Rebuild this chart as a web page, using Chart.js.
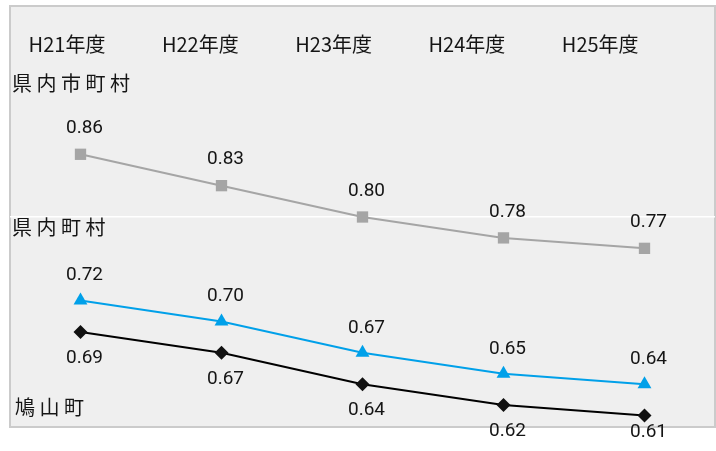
<!DOCTYPE html>
<html>
<head>
<meta charset="utf-8">
<script src="https://cdn.jsdelivr.net/npm/chart.js@4.4.0/dist/chart.umd.min.js"></script>
<style>
  html, body { margin: 0; padding: 0; background: #ffffff; }
  #wrap { width: 716px; height: 451px; }
</style>
</head>
<body>
<div id="wrap"><canvas id="chart"></canvas></div>
<script>
// Data
const years = ["H21年度", "H22年度", "H23年度", "H24年度", "H25年度"];
const prefAll = [0.86, 0.83, 0.80, 0.78, 0.77];     // 県内市町村
const prefTowns = [0.72, 0.70, 0.67, 0.65, 0.64];   // 県内町村
const hatoyama = [0.69, 0.67, 0.64, 0.62, 0.61];    // 鳩山町
const seriesNames = ["県内市町村", "県内町村", "鳩山町"];

const JP_FONT = '"Noto Sans CJK JP", sans-serif';

// Grey panel behind the plot, drawn from the chart area
const panelPlugin = {
  id: "panel",
  beforeDraw(chart) {
    const { ctx, chartArea: a } = chart;
    ctx.save();
    ctx.fillStyle = "#efefef";
    ctx.fillRect(a.left, a.top - 2, a.right - a.left, a.bottom - a.top + 3);
    ctx.strokeStyle = "#cbcbcb";
    ctx.lineWidth = 2;
    ctx.strokeRect(a.left, a.top - 2, a.right - a.left, a.bottom - a.top + 3);
    ctx.restore();
  }
};

// Year labels across the top, series names at the left, value labels at the points
const textPlugin = {
  id: "texts",
  afterDatasetsDraw(chart) {
    const { ctx, chartArea: a } = chart;
    const y = chart.scales.y;
    ctx.save();

    // year labels (Excel places them a little left of the points)
    ctx.font = "20px " + JP_FONT;
    ctx.fillStyle = "#151515";
    ctx.textAlign = "center";
    ctx.textBaseline = "middle";
    years.forEach((t, i) => {
      ctx.fillText(t, a.left + 57 + i * 133.3, a.top + 36);
    });

    // series names, spaced out like the original
    ctx.textAlign = "left";
    ctx.letterSpacing = "4.5px";
    ctx.fillText(seriesNames[0], a.left + 2, y.getPixelForValue(0.928));
    ctx.fillText(seriesNames[1], a.left + 2, y.getPixelForValue(0.79));
    ctx.fillText(seriesNames[2], a.left + 5, y.getPixelForValue(0.618));
    ctx.letterSpacing = "0px";

    // value labels
    ctx.font = "19px Roboto, sans-serif";
    ctx.textAlign = "center";
    const offsets = [-26, -25, 26];
    chart.data.datasets.forEach((ds, d) => {
      chart.getDatasetMeta(d).data.forEach((pt, i) => {
        const ly = Math.min(pt.y + offsets[d], a.bottom + 6);
        ctx.fillText(ds.data[i].toFixed(2), pt.x + 4, ly);
      });
    });
    ctx.restore();
  }
};

new Chart(document.getElementById("chart"), {
  type: "line",
  data: {
    labels: years,
    datasets: [
      {
        label: seriesNames[0],
        data: prefAll,
        borderColor: "#a5a5a5",
        backgroundColor: "#a5a5a5",
        borderWidth: 2,
        pointStyle: "rect",
        pointRadius: 8,
        pointBorderWidth: 0
      },
      {
        label: seriesNames[1],
        data: prefTowns,
        borderColor: "#00a0e9",
        backgroundColor: "#00a0e9",
        borderWidth: 2,
        pointStyle: "triangle",
        pointRadius: 8,
        pointBorderWidth: 0
      },
      {
        label: seriesNames[2],
        data: hatoyama,
        borderColor: "#000000",
        backgroundColor: "#111111",
        borderWidth: 2,
        pointStyle: "rectRot",
        pointRadius: 7,
        pointBorderWidth: 0
      }
    ]
  },
  options: {
    responsive: true,
    maintainAspectRatio: false,
    animation: false,
    layout: { autoPadding: false, padding: { left: 10, right: 1, top: 8, bottom: 25 } },
    plugins: {
      legend: { display: false },
      tooltip: { enabled: false }
    },
    scales: {
      x: {
        display: false,
        offset: true
      },
      y: {
        display: true,
        min: 0.6,
        max: 1.0,
        ticks: { display: false, stepSize: 0.2 },
        border: { display: false },
        grid: {
          drawTicks: false,
          lineWidth: 1.5,
          color: (c) => (Math.abs(c.tick.value - 0.8) < 1e-6 ? "#ffffff" : "rgba(0,0,0,0)")
        }
      }
    }
  },
  plugins: [panelPlugin, textPlugin]
});
</script>
</body>
</html>
